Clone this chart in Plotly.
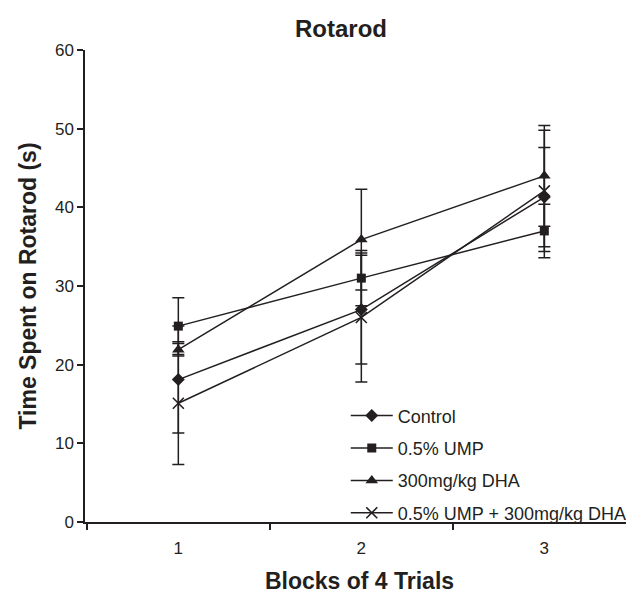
import plotly.graph_objects as go

blocks = [1, 2, 3]
series_names = ["Control", "0.5% UMP", "300mg/kg DHA", "0.5% UMP + 300mg/kg DHA"]
control = [18.1, 27.0, 41.3]
control_err = [6.8, 6.9, 6.3]
ump = [24.9, 31.0, 37.0]
ump_err = [3.6, 3.5, 3.4]
dha = [21.9, 35.9, 44.0]
dha_err = [0.8, 6.4, 6.4]
combo = [15.1, 26.0, 42.1]
combo_err = [7.8, 8.2, 7.7]
y_ticks = [0, 10, 20, 30, 40, 50, 60]

ink = "#231f20"
font = "Liberation Sans, Arial, sans-serif"

fig = go.Figure()
specs = [
    (control, control_err, "diamond", 10, 0),
    (ump, ump_err, "square", 9, 0),
    (dha, dha_err, "triangle-up", 11, 0),
    (combo, combo_err, "x-thin", 11, 1.6),
]
for i, (vals, errs, sym, size, lw) in enumerate(specs):
    fig.add_trace(go.Scatter(
        x=blocks, y=vals, name=series_names[i], mode="lines+markers",
        legendgroup=f"g{i}",
        line=dict(color=ink, width=1.5),
        marker=dict(symbol=sym, size=size, color=ink, line=dict(color=ink, width=lw)),
        error_y=dict(type="data", array=errs, symmetric=True, color=ink, thickness=1.5, width=6),
    ))

fig.update_layout(
    width=626, height=594,
    margin=dict(l=77, r=0, t=42, b=80),
    paper_bgcolor="white", plot_bgcolor="white",
    font=dict(family=font, color=ink, size=17),
    title=dict(text="<b>Rotarod</b>", x=0.532, xanchor="center", y=0.966, yanchor="middle",
               font=dict(size=24, color=ink, family=font)),
    showlegend=True,
    legend=dict(x=0.475, y=0.264, xanchor="left", yanchor="top", traceorder="grouped",
                tracegroupgap=6, font=dict(size=18, color=ink), bgcolor="rgba(0,0,0,0)",
                itemwidth=42),
    xaxis=dict(range=[0.49, 3.49], tickvals=blocks, ticktext=[str(b) for b in blocks],
               ticks="outside", ticklen=10, tickcolor="rgba(0,0,0,0)",
               showline=True, linecolor=ink, linewidth=1.5, showgrid=False, zeroline=False,
               tickfont=dict(size=17, color=ink),
               minor=dict(tick0=0.5, dtick=1, ticks="outside", ticklen=6, tickcolor=ink, tickwidth=1.5, showgrid=False),
               title=dict(text="<b>Blocks of 4 Trials</b>", font=dict(size=23, color=ink), standoff=16)),
    yaxis=dict(range=[0, 60], tickvals=y_ticks, ticks="outside", ticklen=6, tickcolor=ink, tickwidth=1.5,
               showline=True, linecolor=ink, linewidth=1.5, showgrid=False, zeroline=False,
               tickfont=dict(size=17, color=ink),
               title=dict(text="<b>Time Spent on Rotarod (s)</b>", font=dict(size=23, color=ink), standoff=12)),
)

fig.write_html("out.html")
